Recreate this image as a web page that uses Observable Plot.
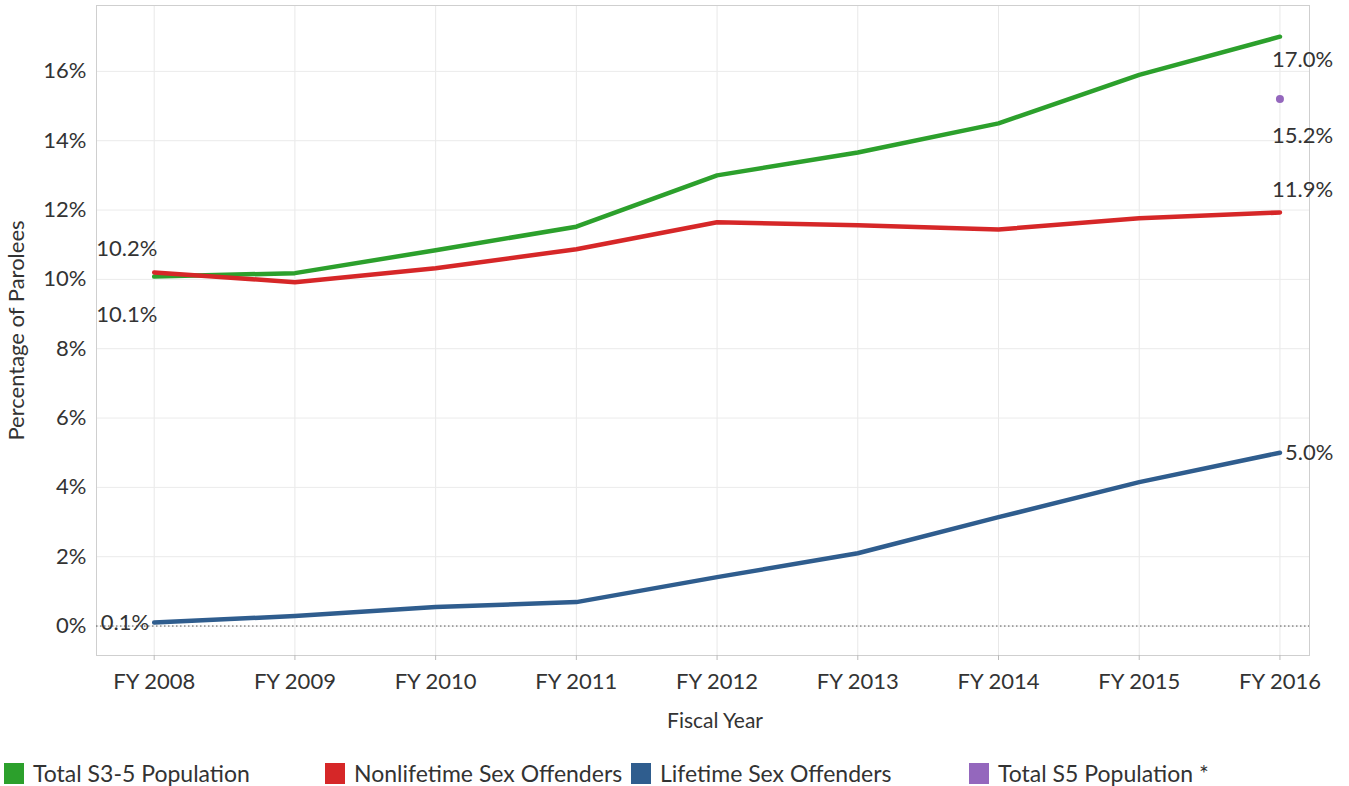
<!DOCTYPE html>
<html>
<head>
<meta charset="utf-8">
<script src="https://cdn.jsdelivr.net/npm/d3@7"></script>
<script src="https://cdn.jsdelivr.net/npm/@observablehq/plot@0.6"></script>
<style>
  body { margin: 0; background: #fff; font-family: Lato, "Open Sans", sans-serif; }
  #legend { position: relative; height: 46px; font-size: 23px; color: #333; }
  .item { position: absolute; top: 19px; display: flex; align-items: center; white-space: nowrap; }
  .sw { width: 20px; height: 21px; margin-right: 9px; display: inline-block; }
</style>
</head>
<body>
<div id="chart"></div>
<div id="legend"></div>
<script>
const years = [2008, 2009, 2010, 2011, 2012, 2013, 2014, 2015, 2016];
const totalS35 = [10.08, 10.18, 10.84, 11.52, 13.0, 13.66, 14.5, 15.9, 17.0];
const nonlifetime = [10.2, 9.92, 10.32, 10.87, 11.65, 11.56, 11.44, 11.76, 11.93];
const lifetime = [0.1, 0.29, 0.55, 0.69, 1.41, 2.1, 3.14, 4.15, 5.0];
const s5Year = [2016];
const s5Value = [15.2];
const seriesNames = ["Total S3-5 Population", "Nonlifetime Sex Offenders", "Lifetime Sex Offenders", "Total S5 Population *"];
const seriesColors = ["#2ca02c", "#d62728", "#2f5d8e", "#9467bd"];
const yTicks = [0, 2, 4, 6, 8, 10, 12, 14, 16];

const rows = [];
[totalS35, nonlifetime, lifetime].forEach((vals, i) => {
  vals.forEach((v, j) => rows.push({series: seriesNames[i], year: years[j], value: v}));
});
const s5 = s5Year.map((y, i) => ({series: seriesNames[3], year: y, value: s5Value[i]}));
const pick = (name, year) => rows.filter(d => d.series === name && d.year === year);
const fmt = v => v.toFixed(1) + "%";

const chart = Plot.plot({
  width: 1349,
  height: 740,
  marginLeft: 96,
  marginRight: 40,
  marginTop: 5,
  marginBottom: 85,
  style: {fontFamily: "Lato, 'Open Sans', sans-serif", fontSize: "22px", color: "#333", background: "#fff"},
  x: {domain: [2008 - 0.41, 2016 + 0.21], label: null},
  y: {domain: [-0.85, 17.9], label: null},
  color: {domain: seriesNames, range: seriesColors},
  marks: [
    Plot.gridX(years, {stroke: "#e8e8e8", strokeOpacity: 1}),
    Plot.gridY(yTicks, {stroke: "#ebebeb", strokeOpacity: 1}),
    Plot.frame({stroke: "#cfcfcf"}),
    Plot.ruleY([0], {stroke: "#555", strokeDasharray: "1.5,2.5"}),
    Plot.axisX({ticks: years, tickFormat: d => "FY " + d, tickSize: 5, tickPadding: 13, stroke: "#bbb", label: null}),
    Plot.axisY({ticks: yTicks, tickFormat: d => d + "%", tickSize: 0, tickPadding: 10,
      label: "Percentage of Parolees", labelAnchor: "center", labelOffset: 88, labelArrow: false}),
    Plot.text(["Fiscal Year"], {frameAnchor: "bottom", dy: 72, dx: 12, fontSize: 21}),
    Plot.line(rows, {x: "year", y: "value", stroke: "series", strokeWidth: 4.5, z: "series"}),
    Plot.dot(s5, {x: "year", y: "value", fill: "series", r: 4}),
    Plot.text(pick(seriesNames[0], 2016), {x: "year", y: "value", text: d => fmt(d.value), textAnchor: "start", dx: -8, dy: 23}),
    Plot.text(s5, {x: "year", y: "value", text: d => fmt(d.value), textAnchor: "start", dx: -8, dy: 37}),
    Plot.text(pick(seriesNames[1], 2016), {x: "year", y: "value", text: d => fmt(d.value), textAnchor: "start", dx: -8, dy: -23}),
    Plot.text(pick(seriesNames[2], 2016), {x: "year", y: "value", text: d => fmt(d.value), textAnchor: "start", dx: 5, dy: 0}),
    Plot.text(pick(seriesNames[1], 2008), {x: "year", y: "value", text: d => fmt(d.value), textAnchor: "start", dx: -58, dy: -23}),
    Plot.text(pick(seriesNames[0], 2008), {x: "year", y: "value", text: d => "10.1%", textAnchor: "start", dx: -58, dy: 38}),
    Plot.text(pick(seriesNames[2], 2008), {x: "year", y: "value", text: d => fmt(d.value), textAnchor: "end", dx: -5, dy: 0})
  ]
});
document.getElementById("chart").appendChild(chart);

const lefts = [4, 325, 631, 969];
const legend = document.getElementById("legend");
seriesNames.forEach((n, i) => {
  const el = document.createElement("div");
  el.className = "item";
  el.style.left = lefts[i] + "px";
  el.innerHTML = `<span class="sw" style="background:${seriesColors[i]}"></span>${n}`;
  legend.appendChild(el);
});
</script>
</body>
</html>
